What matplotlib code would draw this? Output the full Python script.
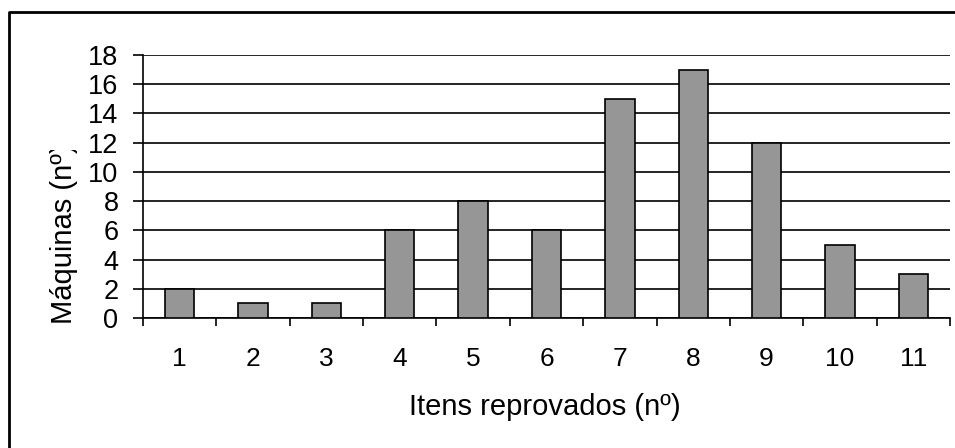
import matplotlib
matplotlib.use('Agg')
import matplotlib.pyplot as plt
import numpy as np
from matplotlib.transforms import Bbox, TransformedBbox
from matplotlib.lines import Line2D

# data
itens = [1, 2, 3, 4, 5, 6, 7, 8, 9, 10, 11]
maquinas = [2, 1, 1, 6, 8, 6, 15, 17, 12, 5, 3]
y_ticks = [0, 2, 4, 6, 8, 10, 12, 14, 16, 18]

plt.rcParams['font.family'] = ['Liberation Sans', 'DejaVu Sans']

fig = plt.figure(figsize=(9.55, 4.48), dpi=100)
ax = fig.add_axes([143/955, 1-318/448, (950-143)/955, (318-55)/448])

x = np.arange(len(itens))
ax.bar(x, maquinas, width=0.4, color='#969696', edgecolor='black', linewidth=1.2, zorder=3)

ax.set_xlim(-0.5, len(itens) - 0.5)
ax.set_ylim(0, 18)
ax.set_yticks(y_ticks)
ax.set_yticklabels([str(v) for v in y_ticks], fontsize=19.5)
ax.yaxis.grid(True, color='black', linewidth=1.2, zorder=0)

ax.set_xticks(x)
ax.set_xticklabels([str(v) for v in itens], fontsize=19)
ax.set_xticks(np.arange(len(itens) + 1) - 0.5, minor=True)
ax.tick_params(axis='x', which='major', length=0, pad=21)
ax.tick_params(axis='x', which='minor', length=6, width=1.2, direction='out')
ax.tick_params(axis='y', length=7.2, width=1.2, pad=10.5)

for s in ['top', 'right']:
    ax.spines[s].set_visible(False)
ax.spines['left'].set_linewidth(1.2)
ax.spines['bottom'].set_linewidth(1.2)

fig.text(545/955, 1-407/448, 'Itens reprovados (nº)', fontsize=21, ha='center', va='center')
yl = fig.text(64/955, 1-324/448, 'Máquinas (nº)', fontsize=21, rotation=90, ha='center', va='bottom')
yl.set_clip_box(TransformedBbox(Bbox([[0, 0], [1, 1-150/448]]), fig.transFigure))
yl.set_clip_on(True)

# outer frame (left and top edges only visible)
fig.add_artist(Line2D([9/955, 9/955, 1], [0, 1-12/448, 1-12/448], transform=fig.transFigure,
                      color='black', linewidth=2))

fig.savefig('out.png', dpi=100)
